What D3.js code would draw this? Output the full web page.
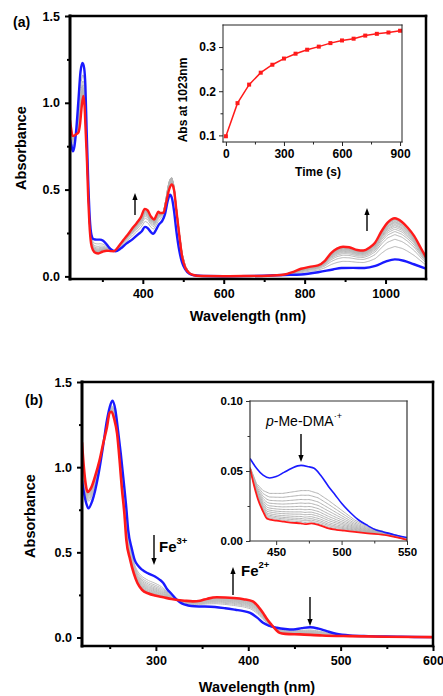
<!DOCTYPE html>
<html><head><meta charset="utf-8">
<script src="https://cdn.jsdelivr.net/npm/d3@7"></script>
<style>
body{margin:0;background:#fff}
svg{display:block}
text{font-family:Arial,'Liberation Sans',sans-serif}
</style>
</head><body>
<svg id="c" width="443" height="696"></svg>
<script>
// ---------- Panel (a) data ----------
const blueA = [[220,0.79],[224,0.75],[227,0.72],[231,0.75],[236,0.86],[241,1.02],[246,1.18],[251,1.23],[255,1.2],[258,1.1],[261,0.85],[265,0.55],[269,0.33],[273,0.24],[278,0.215],[286,0.212],[294,0.212],[302,0.205],[312,0.18],[320,0.158],[332,0.145],[345,0.16],[360,0.19],[375,0.215],[390,0.245],[398,0.262],[405,0.285],[412,0.278],[420,0.255],[426,0.245],[433,0.27],[440,0.3],[448,0.32],[455,0.36],[461,0.43],[467,0.47],[472,0.45],[477,0.38],[483,0.26],[490,0.15],[497,0.08],[505,0.04],[515,0.015],[530,0.005],[550,0.002],[600,0.001],[700,0.004],[750,0.008],[791,0.011],[836,0.025],[870,0.04],[891,0.048],[920,0.049],[948,0.048],[975,0.06],[1000,0.085],[1023,0.098],[1045,0.09],[1070,0.07],[1100,0.045]];
const redA = [[220,0.9],[223,0.85],[226,0.81],[230,0.81],[236,0.82],[241,0.83],[245,0.88],[249,0.98],[253,1.04],[256,0.98],[259,0.82],[262,0.66],[265,0.45],[268,0.3],[272,0.19],[277,0.15],[283,0.135],[290,0.132],[300,0.142],[311,0.148],[320,0.146],[328,0.145],[336,0.16],[344,0.185],[352,0.21],[360,0.232],[372,0.27],[385,0.308],[395,0.34],[405,0.389],[412,0.38],[420,0.345],[428,0.328],[434,0.355],[438,0.372],[444,0.365],[451,0.366],[458,0.43],[465,0.5],[472,0.529],[477,0.5],[483,0.38],[490,0.24],[497,0.117],[505,0.05],[514,0.021],[525,0.008],[543,0.002],[600,0.001],[650,0.002],[709,0.004],[750,0.011],[770,0.025],[791,0.044],[812,0.055],[833,0.063],[850,0.09],[866,0.136],[880,0.16],[895,0.171],[910,0.168],[930,0.152],[945,0.149],[960,0.165],[974,0.194],[990,0.26],[1005,0.31],[1023,0.335],[1040,0.315],[1055,0.28],[1071,0.232],[1088,0.16],[1100,0.11]];
// transient extra absorbance of the intermediate spectra near 470 nm
const bumpA = [[440,0],[452,0.02],[462,0.06],[470,0.075],[478,0.07],[486,0.06],[494,0.04],[505,0.015],[520,0]];
// inset (a): Abs at 1023 nm vs time
const timeA = [0,60,120,180,240,300,360,420,480,540,600,660,720,780,840,900];
const absA  = [0.098,0.173,0.215,0.242,0.260,0.274,0.285,0.294,0.301,0.309,0.315,0.319,0.326,0.330,0.333,0.337];

// ---------- Panel (b) data ----------
const blueB = [[220,0.92],[224,0.8],[227,0.758],[231,0.8],[238,0.963],[243,1.13],[247,1.275],[251,1.37],[253,1.39],[256,1.34],[259,1.216],[262,1.08],[265,0.924],[268,0.76],[270,0.632],[274,0.52],[277,0.456],[281,0.42],[285,0.398],[292,0.375],[299,0.358],[304,0.34],[308,0.32],[312,0.285],[317,0.255],[322,0.225],[328,0.2],[335,0.188],[342,0.183],[350,0.182],[364,0.179],[375,0.172],[386,0.163],[395,0.155],[402,0.144],[410,0.115],[416,0.086],[423,0.068],[431,0.057],[440,0.05],[449,0.047],[458,0.055],[467,0.06],[476,0.052],[485,0.037],[495,0.022],[510,0.012],[530,0.008],[564,0.005],[580,0.003],[600,0.002]];
const redB = [[220,1.145],[222,1.0],[224,0.9],[226,0.855],[230,0.88],[234,0.943],[239,1.04],[243,1.14],[247,1.235],[250,1.32],[252,1.325],[255,1.28],[258,1.197],[261,1.02],[263,0.885],[266,0.72],[268,0.573],[272,0.46],[276,0.378],[280,0.32],[285,0.28],[292,0.258],[299,0.246],[308,0.236],[317,0.226],[331,0.216],[340,0.212],[348,0.216],[356,0.228],[366,0.236],[375,0.235],[384,0.232],[395,0.225],[405,0.212],[411,0.18],[416,0.144],[420,0.11],[425,0.076],[430,0.045],[434,0.027],[440,0.021],[456,0.018],[480,0.012],[510,0.008],[550,0.004],[600,0.002]];
const fracB = [0.35,0.45,0.53,0.6,0.66,0.71,0.76,0.8,0.84,0.88,0.91,0.94,0.97];
// inset (b)
const blueIn = [[430,0.059],[435,0.052],[440,0.047],[445,0.045],[450,0.046],[456,0.049],[462,0.052],[469,0.054],[475,0.053],[479,0.052],[484,0.047],[490,0.039],[495,0.033],[500,0.027],[507,0.02],[513,0.015],[520,0.011],[526,0.008],[532,0.0065],[540,0.0045],[550,0.0025]];
const redIn = [[430,0.052],[433,0.04],[436,0.03],[440,0.021],[443,0.016],[450,0.0145],[456,0.0138],[463,0.013],[469,0.0126],[472,0.012],[477,0.0126],[484,0.011],[490,0.009],[496,0.008],[502,0.0074],[510,0.0065],[520,0.0055],[535,0.004],[545,0.002],[550,0.0008]];
const topGrayIn = [[430,0.053],[435,0.041],[440,0.036],[445,0.034],[455,0.034],[469,0.036],[475,0.036],[482,0.034],[490,0.029],[500,0.022],[510,0.015],[520,0.01],[535,0.006],[550,0.002]];
const fracIn = [0,0.14,0.27,0.38,0.48,0.57,0.65,0.72,0.79,0.85,0.9,0.95];

// tick labels
const xTicksA = [400,600,800,1000], xMinorA=[300,500,700,900];
const yTicks = [0,0.5,1.0,1.5], yMinor=[0.25,0.75,1.25];
const xTicksInA=[0,300,600,900], xMinorInA=[150,450,750];
const yTicksInA=[0.1,0.2,0.3], yMinorInA=[0.15,0.25];
const xTicksB=[300,400,500,600], xMinorB=[250,350,450,550];
const xTicksInB=[450,500,550], xMinorInB=[475,525];
const yTicksInB=[0,0.05,0.10], yMinorInB=[0.025,0.075];

// ---------- helpers ----------
function interp(arr,w){
  if(w<=arr[0][0]) return arr[0][1];
  for(let i=1;i<arr.length;i++){ if(w<=arr[i][0]){const [a0,v0]=arr[i-1],[a1,v1]=arr[i];return v0+(v1-v0)*(w-a0)/(a1-a0);} }
  return arr[arr.length-1][1];
}
const svg=d3.select('#c');
let clipId=0;
function clip(x,y){
  const id='cl'+(clipId++);
  const [x0,x1]=x.range(),[y0,y1]=y.range();
  svg.append('clipPath').attr('id',id).append('rect').attr('x',x0).attr('y',y1).attr('width',x1-x0).attr('height',y0-y1);
  return 'url(#'+id+')';
}
function axes(x,y,o){
  const [x0,x1]=x.range(),[y0,y1]=y.range();
  const mk=(axis,vals,size,fmt,tr,lab)=>{
    const g=svg.append('g').attr('transform',tr).call(axis.tickValues(vals).tickSize(size).tickPadding(o.pad).tickFormat(lab?fmt:''));
    g.select('.domain').remove();
    g.selectAll('.tick line').attr('stroke',o.col).attr('stroke-width',o.tw);
    g.selectAll('text').attr('font-size',o.fs).attr('font-weight','bold').attr('fill','#000').attr('font-family',"Arial,'Liberation Sans',sans-serif");
    return g;
  };
  mk(d3.axisBottom(x),o.xt,o.tl,o.xf,`translate(0,${y0})`,true);
  mk(d3.axisBottom(x),o.xm,o.tlm,null,`translate(0,${y0})`,false);
  mk(d3.axisLeft(y),o.yt,o.tl,o.yf,`translate(${x0},0)`,true);
  mk(d3.axisLeft(y),o.ym,o.tlm,null,`translate(${x0},0)`,false);
  const L=(a,b,c,d,w)=>svg.append('line').attr('x1',a).attr('y1',b).attr('x2',c).attr('y2',d).attr('stroke',o.col).attr('stroke-width',w).attr('stroke-linecap','square');
  L(x0,y1,x1,y1,o.fw); L(x1,y1,x1,y0,o.fw); L(x0,y0,x1,y0,o.fw); L(x0,y1,x0,y0,o.lw);
}
function arrow(x,yFrom,yTo){
  const dir=yTo<yFrom?-1:1;
  svg.append('line').attr('x1',x).attr('x2',x).attr('y1',yFrom).attr('y2',yTo-dir*5).attr('stroke','#000').attr('stroke-width',1.4);
  svg.append('path').attr('d',`M${x-2.6},${yTo-dir*7}L${x+2.6},${yTo-dir*7}L${x},${yTo}Z`).attr('fill','#000');
}
function spectrum(x,y,data,color,w,cp){
  svg.append('path').datum(data).attr('clip-path',cp).attr('fill','none').attr('stroke',color).attr('stroke-width',w).attr('stroke-linejoin','round')
    .attr('d',d3.line().x(d=>x(d[0])).y(d=>y(d[1])).curve(d3.curveMonotoneX));
}

// ---------- Panel (a) ----------
{
  const x=d3.scaleLinear().domain([220,1100]).range([70,426]);
  const y=d3.scaleLinear().domain([-0.015,1.5]).range([279,16]);
  const cp=clip(x,y);
  const b0=interp(absA.length?[[0,absA[0]]]:[],0);
  const fr=absA.slice(1,-1).map(v=>(v-absA[0])/(absA[absA.length-1]-absA[0]));
  const grid=d3.range(220,1101,2);
  fr.forEach(f=>{
    const pts=grid.map(w=>{const bl=interp(blueA,w),rd=interp(redA,w);return [w,bl+f*(rd-bl)+4*f*(1-f)*interp(bumpA,w)];});
    spectrum(x,y,pts,'#b3b3b3',1,cp);
  });
  spectrum(x,y,blueA,'#1a1aff',2.4,cp);
  spectrum(x,y,redA,'#ff1a1a',2.4,cp);
  axes(x,y,{xt:xTicksA,xm:xMinorA,yt:yTicks,ym:yMinor,xf:d3.format('d'),yf:d3.format('.1f'),tl:5,tlm:3,pad:5,tw:2,fs:12.5,col:'#000',fw:2.5,lw:3});
  arrow(135,215,193); arrow(367,231,208);
  svg.append('text').attr('x',13).attr('y',27).attr('font-size',14).attr('font-weight','bold').text('(a)');
  svg.append('text').attr('transform','translate(26,148) rotate(-90)').attr('text-anchor','middle').attr('font-size',14.5).attr('font-weight','bold').text('Absorbance');
  svg.append('text').attr('x',248).attr('y',321).attr('text-anchor','middle').attr('font-size',14.5).attr('font-weight','bold').text('Wavelength (nm)');

  // inset
  const xi=d3.scaleLinear().domain([-15,910]).range([223,402]);
  const yi=d3.scaleLinear().domain([0.085,0.35]).range([142,25]);
  svg.append('rect').attr('x',223).attr('y',25).attr('width',179).attr('height',117).attr('fill','#fff');
  const pts=timeA.map((t,i)=>[t,absA[i]]);
  svg.append('path').datum(pts).attr('fill','none').attr('stroke','#ff1a1a').attr('stroke-width',1.5)
    .attr('d',d3.line().x(d=>xi(d[0])).y(d=>yi(d[1])));
  svg.selectAll('.sq').data(pts).enter().append('rect').attr('x',d=>xi(d[0])-2).attr('y',d=>yi(d[1])-2).attr('width',4).attr('height',4).attr('fill','#ff1a1a');
  axes(xi,yi,{xt:xTicksInA,xm:xMinorInA,yt:yTicksInA,ym:yMinorInA,xf:d3.format('d'),yf:d3.format('.1f'),tl:4,tlm:2.5,pad:3,tw:1,fs:12,col:'#222',fw:1,lw:1});
  svg.append('text').attr('transform','translate(187,100) rotate(-90)').attr('text-anchor','middle').attr('font-size',12).attr('font-weight','bold').text('Abs at 1023nm');
  svg.append('text').attr('x',318).attr('y',176).attr('text-anchor','middle').attr('font-size',12).attr('font-weight','bold').text('Time (s)');
}

// ---------- Panel (b) ----------
{
  const x=d3.scaleLinear().domain([220,600]).range([82,433]);
  const y=d3.scaleLinear().domain([-0.05,1.5]).range([646,382]);
  const cp=clip(x,y);
  const grid=d3.range(220,601,2);
  fracB.forEach(f=>{
    const pts=grid.map(w=>{const bl=interp(blueB,w),rd=interp(redB,w);return [w,bl+f*(rd-bl)];});
    spectrum(x,y,pts,'#bcbcbc',1,cp);
  });
  spectrum(x,y,blueB,'#1a1aff',2.4,cp);
  spectrum(x,y,redB,'#ff1a1a',2.6,cp);
  axes(x,y,{xt:xTicksB,xm:xMinorB,yt:yTicks,ym:yMinor,xf:d3.format('d'),yf:d3.format('.1f'),tl:5,tlm:3,pad:5,tw:2,fs:12.5,col:'#000',fw:2.5,lw:3});
  svg.append('text').attr('x',25).attr('y',405).attr('font-size',14).attr('font-weight','bold').text('(b)');
  svg.append('text').attr('transform','translate(35,516) rotate(-90)').attr('text-anchor','middle').attr('font-size',14.5).attr('font-weight','bold').text('Absorbance');
  svg.append('text').attr('x',257).attr('y',692).attr('text-anchor','middle').attr('font-size',14.5).attr('font-weight','bold').text('Wavelength (nm)');
  arrow(154,535,565); arrow(233,595,567); arrow(310,597,626);
  const fe3=svg.append('text').attr('x',159).attr('y',552).attr('font-size',15).attr('font-weight','bold');
  fe3.append('tspan').text('Fe'); fe3.append('tspan').attr('dy',-8).attr('font-size',9.5).text('3+');
  const fe2=svg.append('text').attr('x',241).attr('y',576).attr('font-size',15).attr('font-weight','bold');
  fe2.append('tspan').text('Fe'); fe2.append('tspan').attr('dy',-8).attr('font-size',9.5).text('2+');

  // inset
  const xi=d3.scaleLinear().domain([430,550]).range([250,407]);
  const yi=d3.scaleLinear().domain([0,0.10]).range([541,401]);
  svg.append('rect').attr('x',250).attr('y',401).attr('width',157).attr('height',140).attr('fill','#fff');
  const cpi=clip(xi,yi);
  const gi=d3.range(430,551,1);
  fracIn.forEach(f=>{
    const pts=gi.map(w=>{const t=interp(topGrayIn,w),r=interp(redIn,w);return [w,t+f*(r-t)];});
    spectrum(xi,yi,pts,'#b3b3b3',1,cpi);
  });
  spectrum(xi,yi,blueIn,'#1a1aff',1.6,cpi);
  spectrum(xi,yi,redIn,'#ff1a1a',1.8,cpi);
  axes(xi,yi,{xt:xTicksInB,xm:xMinorInB,yt:yTicksInB,ym:yMinorInB,xf:d3.format('d'),yf:d3.format('.2f'),tl:4,tlm:2.5,pad:3,tw:1,fs:11.5,col:'#333',fw:1.2,lw:1.2});
  const lab=svg.append('text').attr('x',266).attr('y',426).attr('font-size',14);
  lab.append('tspan').attr('font-style','italic').text('p');
  lab.append('tspan').text('-Me-DMA');
  lab.append('tspan').attr('dy',-7).attr('font-size',9).text('·+');
  arrow(301,434,462);
}
</script>
</body></html>
